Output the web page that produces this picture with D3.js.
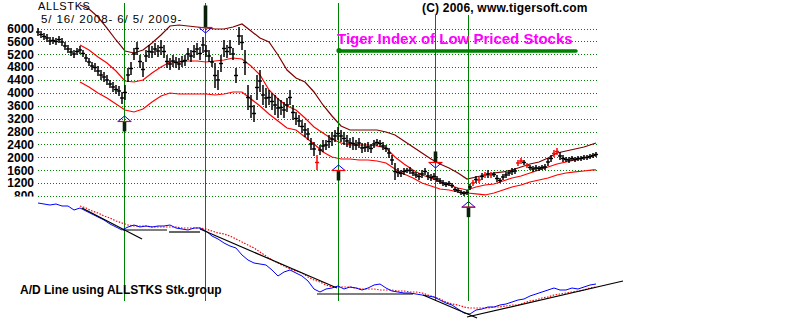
<!DOCTYPE html>
<html><head><meta charset="utf-8">
<script src="https://cdn.jsdelivr.net/npm/d3@7"></script>
<style>body{margin:0;background:#fff}svg{display:block}text{font-family:Arial,"Liberation Sans",sans-serif}</style>
</head><body><svg id="c" width="800" height="323"></svg>
<script>
// ---------- DATA ----------
const yTicks=[800,1200,1600,2000,2400,2800,3200,3600,4000,4400,4800,5200,5600,6000];
const titleText="ALLSTKS";
const dateText="5/ 16/ 2008- 6/ 5/ 2009-";
const copyText="(C) 2006, www.tigersoft.com";
const headText="Tiger Index of Low Priced Stocks";
const adLabel="A/D Line using ALLSTKS Stk.group";

// daily bars (index 0..186), high and low in index points
const barHigh=[6015,5922,5860,5829,5736,5736,5705,5767,5705,5581,5488,5395,5333,5395,5457,5333,5208,5084,4960,4929,
4836,4712,4650,4557,4401,4339,4246,4215,4029,4246,4774,4960,5395,5581,5177,4960,5333,5488,5457,5550,
5488,5643,5488,5177,5084,5177,5115,5084,5146,5177,5395,5333,5488,5550,5426,5736,5488,5333,5115,4929,
4712,5177,5643,5488,5643,5395,4774,6046,5798,5333,4246,3936,3625,4557,4712,4246,4153,4091,3998,3936,
3843,3781,3718,3843,4091,3625,3408,3315,3160,3067,2911,2601,2477,2073,2384,2539,2539,2694,2787,2849,
2943,2849,2787,2694,2601,2632,2539,2601,2446,2446,2477,2415,2539,2570,2539,2477,2384,2291,2073,1825,
1670,1608,1670,1670,1701,1608,1546,1515,1608,1670,1546,1484,1515,1422,1360,1297,1235,1266,1204,1080,
1049,987,956,987,1173,1297,1422,1391,1515,1546,1608,1546,1546,1453,1360,1484,1546,1608,1670,1670,
1918,1980,1918,1825,1763,1732,1763,1732,1763,1794,1980,2073,2229,2291,2167,2073,2011,2011,2042,2011,
2042,2042,2073,2073,2104,2136,2167];
const barLow=[5767,5705,5643,5581,5488,5519,5488,5550,5457,5333,5240,5146,5084,5177,5208,5115,4960,4836,4712,4650,
4526,4401,4339,4246,4153,4029,3967,3905,3656,3781,4339,4557,5022,5177,4774,4495,4960,5084,5084,5177,
5115,5177,5084,4774,4712,4805,4774,4712,4805,4836,5022,4960,5084,5177,5022,5240,5115,4960,4805,4153,
4091,4650,5115,5084,5177,5022,4308,5488,5333,4557,3470,3222,3098,3781,4029,3625,3532,3625,3470,3315,
3222,3315,3222,3408,3625,3160,3005,2943,2756,2632,2539,2229,2042,1608,2073,2167,2229,2291,2353,2477,
2539,2477,2384,2322,2291,2229,2229,2291,2136,2167,2167,2136,2291,2353,2322,2229,2167,1980,1763,1297,
1391,1391,1453,1515,1484,1422,1360,1297,1360,1453,1297,1266,1297,1235,1173,1111,1080,1111,1049,925,
894,832,801,832,987,1111,1204,1204,1297,1360,1360,1360,1391,1235,1204,1297,1360,1422,1453,1484,
1732,1794,1763,1670,1608,1546,1577,1577,1608,1608,1732,1856,2011,2073,1918,1856,1856,1825,1887,1856,
1887,1887,1918,1918,1949,1980,2011];
const redBars=[93,145,147,149,151,160,161,163,172,173];

// trading bands, sampled every 3 bars from bar 14, plus the last bar
const bandIdx=d3.range(14,186,3).concat([186]);
const bandUpper=[6729,6605,6357,6015,5643,5302,5240,5333,5550,5798,6078,6109,6078,6046,6015,5984,5984,6046,6140,5922,
5705,5581,5177,4712,4464,4339,4029,3625,3284,2974,2849,2849,2849,2849,2787,2694,2508,2322,2136,1949,
1794,1670,1515,1328,1391,1453,1515,1546,1608,1701,1794,1856,1980,2136,2198,2260,2322,2415,2446];
const bandMid=[5488,5333,5115,4929,4681,4370,4339,4401,4619,4805,4960,4960,4991,4991,4960,4991,5022,5084,5053,4836,
4557,4091,3812,3594,3470,3222,2943,2756,2570,2446,2384,2384,2384,2353,2291,2011,1794,1608,1453,1360,
1235,1142,1049,987,1080,1142,1173,1266,1360,1422,1515,1608,1701,1794,1856,1918,1980,2042,2073];
const bandLower=[4339,4184,3998,3843,3656,3470,3408,3501,3718,3905,3998,3967,3967,3967,3967,3936,3967,4029,4029,3812,
3594,3346,3129,2911,2849,2632,2415,2167,2011,1949,1949,1918,1918,1887,1825,1639,1484,1360,1204,1111,
1018,987,925,894,863,832,894,987,1080,1142,1235,1297,1360,1453,1515,1546,1577,1608,1608];

// signals (bar index, type, price level of arrow tip)
const sigIdx=[28.67,55.67,100,132.33,143.33];
const sigType=["buy","sell","buy","sell","buy"];
const sigTip=[3284,5860,1763,1670,624];

// A/D line, sampled every 2 bars from bar 0 (arbitrary units)
const adVal=[117,116,115,116,114,114,110,112,109,106,103,100,96,93,90,93,95,93,94,93,
94,94,95,92,91,90,92,92,89,84,81,77,74,72,65,60,57,56,55,50,
44,48,50,47,44,39,31,28,31,32,34,31,33,32,30,32,35,36,32,29,
28,27,27,26,25,24,23,20,17,15,11,7,6,10,11,13,13,15,16,18,
20,21,24,26,28,30,32,30,30,32,31,33,35,36];
// moving average of A/D, every 2 bars from bar 14
const adMA=[114,112,109,107,104,102,99,97,95,94,94,94,93,93,93,93,93,92,92,92,
92,91,89,87,86,84,81,78,75,72,68,64,60,57,54,51,49,47,43,40,
38,35,33,33,33,33,32,31,31,31,30,30,30,29,29,28,28,27,25,23,
21,18,16,15,13,12,12,12,12,13,13,14,15,15,17,19,20,22,23,25,
26,27,28,29,30,32,33];
// trend lines on A/D: [idx1, v1, idx2, v2]
const adTrends=[[14.67,112,34.67,81],[28.33,90,43,90],[43.67,88,54,88],[54,91,99.67,32],
[93,26,125,26],[128.33,25,146.33,2],[143,3,195,39]];

// ---------- CHART ----------
const svg=d3.select('#c');
const x=d3.scaleLinear().domain([0,186]).range([38,596]);
const y=d3.scaleLinear().domain([800,6000]).range([196,28.5]);
const ya=d3.scaleLinear().domain([0,130]).range([320,190]);

svg.append('defs').append('clipPath').attr('id','clipAx')
  .append('rect').attr('x',0).attr('y',0).attr('width',40).attr('height',196.5);

// grid
svg.append('g').selectAll('line').data(yTicks).join('line')
  .attr('x1',38).attr('x2',597)
  .attr('y1',d=>Math.round(y(d))+0.5).attr('y2',d=>Math.round(y(d))+0.5)
  .attr('stroke','#008000').attr('stroke-width',1).attr('stroke-dasharray','1,2')
  .attr('shape-rendering','crispEdges');

// y axis labels (bottom label partly hidden by panel edge)
const ax=d3.axisLeft(y).tickValues(yTicks).tickSize(0).tickPadding(0).tickFormat(d3.format('d'));
const gOuter=svg.append('g').attr('clip-path','url(#clipAx)');
const gA=gOuter.append('g').attr('transform','translate(34,0)').call(ax);
gA.select('.domain').remove();
gA.attr('font-size',12).attr('font-weight','bold').attr('font-family','Arial, "Liberation Sans", sans-serif');
gA.selectAll('text').attr('fill','#000');

// bands
const bl=(arr)=>d3.line().x((d,k)=>x(bandIdx[k])).y(d=>y(d)).curve(d3.curveLinear)(arr);
svg.append('path').attr('d',bl(bandUpper)).attr('fill','none').attr('stroke','#800000').attr('stroke-width',1.2);
svg.append('path').attr('d',bl(bandMid)).attr('fill','none').attr('stroke','#ff0000').attr('stroke-width',1.2);
svg.append('path').attr('d',bl(bandLower)).attr('fill','none').attr('stroke','#ff0000').attr('stroke-width',1.2);

// vertical signal lines
const lineTop=[3,3,3,15,15];
svg.append('g').selectAll('line').data(sigIdx).join('line')
  .attr('x1',d=>Math.round(x(d))+0.5).attr('x2',d=>Math.round(x(d))+0.5)
  .attr('y1',(d,k)=>lineTop[k]).attr('y2',301)
  .attr('stroke','#008000').attr('stroke-width',1.4).attr('shape-rendering','crispEdges');

// price bars
const gb=svg.append('g');
barHigh.forEach((h,i)=>{
  const c=redBars.includes(i)?'#ff0000':'#000';
  const cx=x(i), lo=barLow[i];
  gb.append('line').attr('x1',cx).attr('x2',cx).attr('y1',y(h)).attr('y2',y(lo))
    .attr('stroke',c).attr('stroke-width',1.5);
  const m=y((h+lo)/2);
  gb.append('line').attr('x1',cx-2).attr('x2',cx+2).attr('y1',m).attr('y2',m)
    .attr('stroke',c).attr('stroke-width',1.4);
});

// arrows
const shaftLen=[10,22,10,11,10];
sigIdx.forEach((s,k)=>{
  const cx=Math.round(x(s))+0.5, ty=y(sigTip[k]);
  const dir=sigType[k]==='buy'?1:-1;
  const by=ty+dir*5.5;
  const g=svg.append('g');
  if(dir===1) g.append('rect').attr('x',cx-1.8).attr('y',by).attr('width',3.6).attr('height',shaftLen[k]).attr('fill','#0a200a');
  else g.append('rect').attr('x',cx-1.8).attr('y',by-shaftLen[k]).attr('width',3.6).attr('height',shaftLen[k]).attr('fill','#0a200a');
  g.append('path').attr('d',`M${cx},${ty}L${cx-6.5},${by}L${cx+6.5},${by}Z`)
    .attr('fill','none').attr('stroke','#0000ff').attr('stroke-width',1);
  g.append('line').attr('x1',cx-7).attr('x2',cx+7).attr('y1',by).attr('y2',by)
    .attr('stroke','#ff0000').attr('stroke-width',1.2);
});

// A/D panel
const adLine=d3.line().x((d,k)=>x(k*2)).y(d=>ya(d));
const maLine=d3.line().x((d,k)=>x(14+k*2)).y(d=>ya(d));
svg.append('path').attr('d',maLine(adMA)).attr('fill','none').attr('stroke','#ff0000')
  .attr('stroke-width',1.2).attr('stroke-dasharray','1.5,1.5');
svg.append('path').attr('d',adLine(adVal)).attr('fill','none').attr('stroke','#0000ff').attr('stroke-width',1);
svg.append('g').selectAll('line').data(adTrends).join('line')
  .attr('x1',d=>x(d[0])).attr('y1',d=>ya(d[1])).attr('x2',d=>x(d[2])).attr('y2',d=>ya(d[3]))
  .attr('stroke','#000').attr('stroke-width',1.2);

// texts
svg.append('text').attr('x',38).attr('y',10.4).attr('font-size',11).attr('letter-spacing',0.6).text(titleText);
svg.append('text').attr('x',41).attr('y',22.6).attr('font-size',11.5).attr('letter-spacing',0.9).text(dateText);
svg.append('text').attr('x',422).attr('y',12).attr('font-size',12).attr('font-weight','bold').attr('letter-spacing',0.2).text(copyText);
svg.append('text').attr('x',337).attr('y',44).attr('font-size',15).attr('font-weight','bold').attr('fill','#ff00ff').text(headText);
svg.append('line').attr('x1',339).attr('x2',576).attr('y1',51).attr('y2',51).attr('stroke','#008000').attr('stroke-width',3.5).attr('stroke-linecap','round');
svg.append('circle').attr('cx',339).attr('cy',50.5).attr('r',2.6).attr('fill','#008000');
svg.append('text').attr('x',20).attr('y',294).attr('font-size',12).attr('font-weight','bold').text(adLabel);
</script></body></html>
